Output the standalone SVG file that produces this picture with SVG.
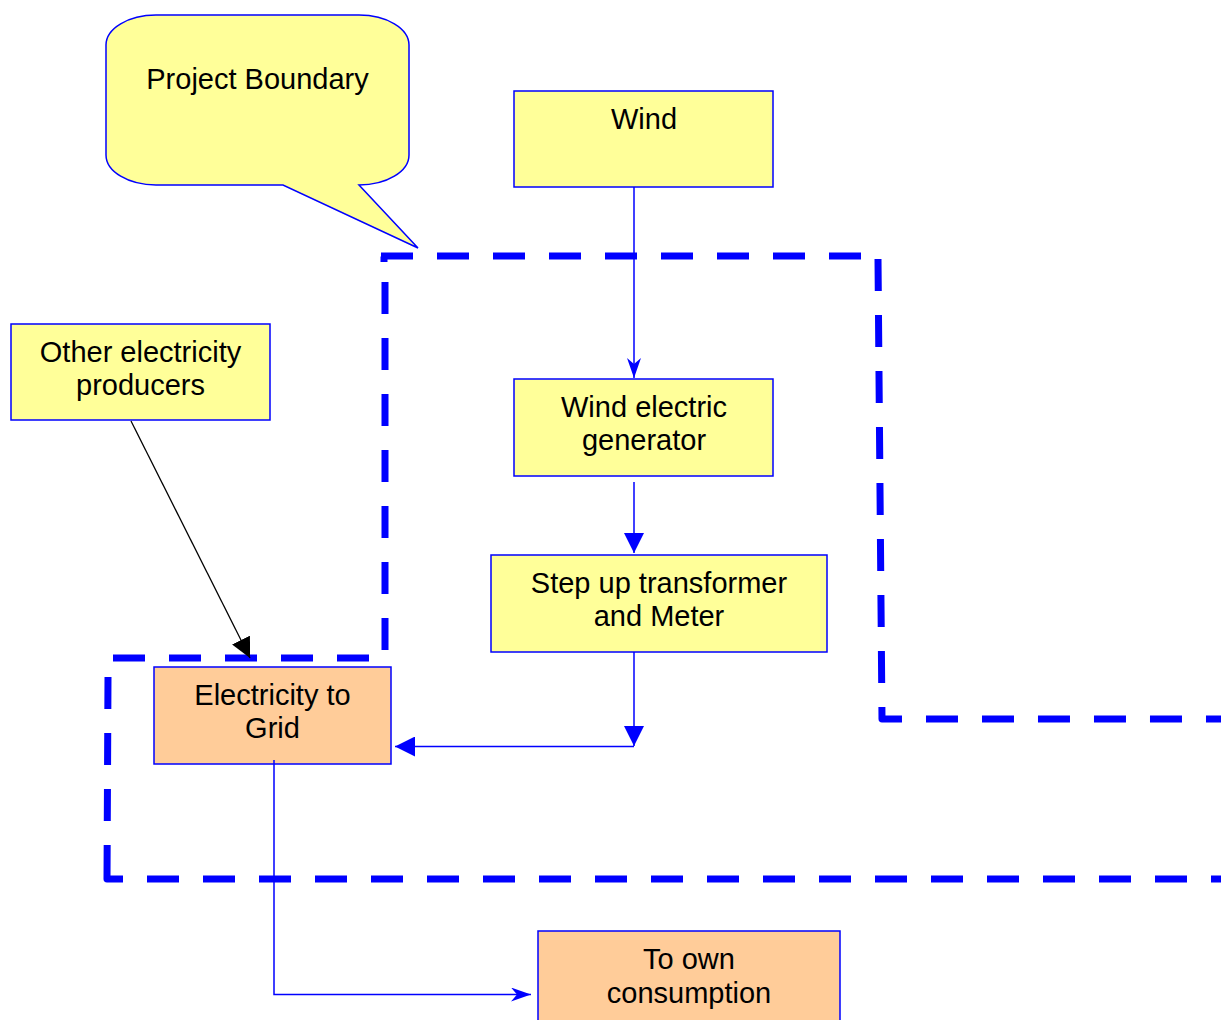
<svg xmlns="http://www.w3.org/2000/svg" width="1221" height="1020" viewBox="0 0 1221 1020">
<defs>
<style>
.box{stroke:#0000FF;stroke-width:1.5}
.yel{fill:#FFFF99}
.org{fill:#FFCC99}
.t{font-family:"Liberation Sans",Arial,sans-serif;font-size:29px;fill:#000;text-anchor:middle}
.dash{fill:none;stroke:#0000FF;stroke-width:7;stroke-dasharray:32 24;stroke-linejoin:round}
.con{fill:none;stroke:#0000FF;stroke-width:1.5}
.conk{fill:none;stroke:#000;stroke-width:1.3}
</style>
<marker id="tri" markerUnits="userSpaceOnUse" markerWidth="20" markerHeight="20" refX="20" refY="10" orient="auto" viewBox="0 0 20 20">
<path d="M0,0 L20,10 L0,20 Z" fill="#0000FF"/>
</marker>
<marker id="trik" markerUnits="userSpaceOnUse" markerWidth="20" markerHeight="20" refX="20" refY="10" orient="auto" viewBox="0 0 20 20">
<path d="M0,0 L20,10 L0,20 Z" fill="#000"/>
</marker>
<marker id="stl" markerUnits="userSpaceOnUse" markerWidth="20" markerHeight="14" refX="20" refY="7" orient="auto" viewBox="0 0 20 14">
<path d="M0,0 L20,7 L0,14 L6,7 Z" fill="#0000FF"/>
</marker>
</defs>

<g id="callout">
<path class="box yel" d="M156,15 H359 A50,30 0 0 1 409,45 V155 A50,30 0 0 1 359,185 L418,248 L283,185 H156 A50,30 0 0 1 106,155 V45 A50,30 0 0 1 156,15 Z"/>
<text class="t" x="257.5" y="89">Project Boundary</text>
</g>

<g id="boundary">
<path class="dash" d="M381,256 H878"/>
<path class="dash" d="M384,256.5 V262" style="stroke-dasharray:none"/>
<path class="dash" d="M878,259 L882,719 H1221"/>
<path class="dash" d="M385,282 V652"/>
<path class="dash" d="M113,658 H370"/>
<path class="dash" d="M108,677 L107,879 H123" style="stroke-dasharray:32 24 32 24 32 24 50"/>
<path class="dash" d="M147,879 H1221"/>
</g>

<g id="wind">
<rect class="box yel" x="514" y="91" width="259" height="96"/>
<text class="t" x="644" y="129">Wind</text>
</g>

<g id="other">
<rect class="box yel" x="11" y="324" width="259" height="96"/>
<text class="t" x="140.5" y="362">Other electricity</text>
<text class="t" x="140.5" y="395">producers</text>
</g>

<g id="generator">
<rect class="box yel" x="514" y="379" width="259" height="97"/>
<text class="t" x="644" y="417">Wind electric</text>
<text class="t" x="644" y="450">generator</text>
</g>

<g id="transformer">
<rect class="box yel" x="491" y="555" width="336" height="97"/>
<text class="t" x="659" y="593">Step up transformer</text>
<text class="t" x="659" y="626">and Meter</text>
</g>

<g id="grid">
<rect class="box org" x="154" y="667" width="237" height="97"/>
<text class="t" x="272.5" y="705">Electricity to</text>
<text class="t" x="272.5" y="738">Grid</text>
</g>

<g id="consumption">
<rect class="box org" x="538" y="931" width="302" height="100"/>
<text class="t" x="689" y="969">To own</text>
<text class="t" x="689" y="1003">consumption</text>
</g>

<g id="connectors">
<path class="con" d="M634,187 V378" marker-end="url(#stl)"/>
<path class="con" d="M634,482 V553" marker-end="url(#tri)"/>
<path class="con" d="M634,652 V746" marker-end="url(#tri)"/>
<path class="con" d="M634,746.5 H395" marker-end="url(#tri)"/>
<path class="conk" d="M131,421 L250,658" marker-end="url(#trik)"/>
<path class="con" d="M274,760 V994.5 H531" marker-end="url(#stl)"/>
</g>
</svg>
